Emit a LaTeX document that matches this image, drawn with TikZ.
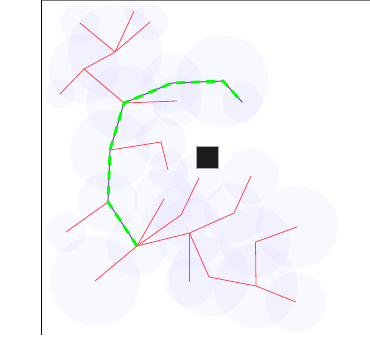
\documentclass[tikz,border=0pt]{standalone}
\definecolor{zonecol}{RGB}{200,200,255}
\definecolor{edgecol}{RGB}{255,70,80}
\definecolor{routecol}{RGB}{60,60,255}
\definecolor{bestcol}{RGB}{0,255,0}
\definecolor{blockfill}{RGB}{28,28,28}
\definecolor{blockline}{RGB}{170,170,170}
\definecolor{topline}{RGB}{120,120,120}
\begin{document}
\begin{tikzpicture}[x=1pt,y=-1pt,
  zone/.style={fill=zonecol,fill opacity=0.11,draw=none},
  edge/.style={draw=edgecol,line width=0.8pt},
  route/.style={draw=routecol,line width=0.6pt},
  best/.style={draw=bestcol,line width=2.8pt,dash pattern=on 9pt off 6pt},
  block/.style={fill=blockfill,draw=blockline,line width=0.6pt}]
\useasboundingbox (0,0) rectangle (370,341);
\fill[white] (0,0) rectangle (370,341);
% tree vertices
\coordinate (n1) at (115,52);
\coordinate (n2) at (80,23);
\coordinate (n3) at (134,11);
\coordinate (n4) at (150,22);
\coordinate (n5) at (84,69);
\coordinate (n6) at (60,94);
\coordinate (n7) at (124,103);
\coordinate (n8) at (177,101);
\coordinate (n9) at (172,83);
\coordinate (n10) at (223,81);
\coordinate (n11) at (242,102);
\coordinate (n12) at (110,150);
\coordinate (n13) at (161,142);
\coordinate (n14) at (168,170);
\coordinate (n15) at (108,202);
\coordinate (n16) at (66,232);
\coordinate (n17) at (137,246);
\coordinate (n18) at (164,199);
\coordinate (n19) at (181,215);
\coordinate (n20) at (199,178);
\coordinate (n21) at (189.5,233);
\coordinate (n22) at (95,281);
\coordinate (n23) at (189.5,282);
\coordinate (n24) at (234,213);
\coordinate (n25) at (251,176);
\coordinate (n26) at (209,277);
\coordinate (n27) at (256,286);
\coordinate (n28) at (255.5,242);
\coordinate (n29) at (297,227);
\coordinate (n30) at (296,302);
% free-space circles
\foreach \n/\r in {n1/47,n2/20,n3/10,n4/18,n5/35,n6/15,n7/38,n8/25,n9/30,n10/46,
  n11/20,n12/40,n13/25,n14/20,n15/30,n16/20,n17/30,n18/30,n19/30,n20/25,
  n21/35,n22/45,n23/25,n24/30,n25/28,n26/40,n27/42,n28/35,n29/41,n30/30}
  \path[zone] (\n) circle (\r);
% white cover outside axes
\fill[white] (0,0) rectangle (41,341);
\fill[white] (41,336) rectangle (370,341);
% tree edges
\foreach \a/\b in {n1/n2,n1/n3,n1/n4,n1/n5,n5/n6,n5/n7,n7/n8,n7/n9,n9/n10,n10/n11,
  n7/n12,n12/n13,n13/n14,n12/n15,n15/n16,n15/n17,n17/n18,n17/n19,n19/n20,n17/n21,
  n17/n22,n21/n23,n21/n24,n24/n25,n21/n26,n26/n27,n27/n28,n28/n29,n27/n30}
  \draw[edge] (\a) -- (\b);
% found path
\draw[route] (n17) -- (n15) -- (n12) -- (n7) -- (n9) -- (n10) -- (n11);
\draw[best] (n17) -- (n15) -- (n12) -- (n7) -- (n9) -- (n10) -- (n11);
% obstacle
\node[block,minimum size=22pt,inner sep=0pt,anchor=north west] (obs) at (196,146) {};
% axes
\draw[topline,line width=0.8pt] (41,0.5) -- (370,0.5);
\draw[black,line width=1.2pt] (41.5,0) -- (41.5,335);
\end{tikzpicture}
\end{document}
